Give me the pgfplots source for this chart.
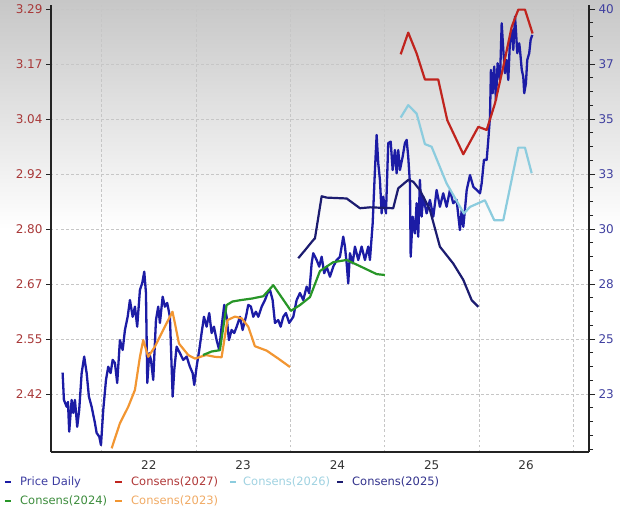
\documentclass[border=0pt]{standalone}
\usepackage{pgfplots}
\pgfplotsset{compat=1.18}
\usepackage{fontspec}
\setmainfont{DejaVu Sans}
\definecolor{cprice}{RGB}{28,28,165}
\definecolor{cA}{RGB}{192,36,30}
\definecolor{cB}{RGB}{140,204,222}
\definecolor{cC}{RGB}{28,28,112}
\definecolor{cD}{RGB}{40,150,40}
\definecolor{cE}{RGB}{242,150,50}
\definecolor{tPrice}{RGB}{60,60,160}
\definecolor{tA}{RGB}{176,56,56}
\definecolor{tB}{RGB}{160,210,225}
\definecolor{tC}{RGB}{50,50,140}
\definecolor{tD}{RGB}{60,140,60}
\definecolor{tE}{RGB}{240,170,100}
\definecolor{tLeft}{RGB}{168,56,56}
\definecolor{tRight}{RGB}{64,64,160}
\definecolor{axisc}{RGB}{35,35,35}
\begin{document}
\begin{tikzpicture}
\path[use as bounding box] (-51pt,-64pt) rectangle (569pt,452pt);
\shade[top color=black!22, bottom color=white] (-51pt,452pt) rectangle (569pt,222pt);
% ---------- price axis (right) ----------
\begin{axis}[
  scale only axis, width=538pt, height=447pt,
  xmin=2021.463, xmax=2027.168,
  ymin=19.864, ymax=40.18,
  axis y line*=right, axis x line*=bottom,
  axis line style={axisc, line width=1.8pt},
  xtick={2022,2023,2024,2025,2026,2027}, xticklabels={},
  xtick style={draw=none},
  ytick={22.5,25,27.5,30,32.5,35,37.5,40},
  yticklabels={23,25,28,30,33,35,37,40},
  yminorticks=true,
  minor ytick={20,20.625,21.25,21.875,23.125,23.75,24.375,25.625,26.25,26.875,28.125,28.75,29.375,30.625,31.25,31.875,33.125,33.75,34.375,35.625,36.25,36.875,38.125,38.75,39.375},
  ytick style={draw=axisc, line width=0.9pt},
  minor y tick style={draw=axisc, line width=0.9pt},
  tick align=outside,
  major tick length=6pt, minor tick length=4pt,
  xmajorgrids, ymajorgrids, yminorgrids=false,
  grid style={gray!45, line width=0.7pt, dash pattern=on 2.5pt off 2.5pt},
  yticklabel style={font=\fontsize{12}{14}\selectfont, text=tRight},
  /pgf/number format/assume math mode=true,
]
\addplot[cprice, line width=2.3pt, line join=round] coordinates {
(2021.586,23.47)(2021.600,22.23)(2021.629,21.92)(2021.643,22.14)(2021.656,20.79)
(2021.682,22.23)(2021.699,21.64)(2021.717,22.23)(2021.741,21.01)(2021.762,21.77)
(2021.788,23.45)(2021.815,24.20)(2021.841,23.45)(2021.865,22.38)(2021.894,21.92)
(2021.929,21.18)(2021.947,20.73)(2021.975,20.56)(2021.993,20.18)(2022.017,21.77)
(2022.046,23.14)(2022.070,23.74)(2022.095,23.45)(2022.117,24.05)(2022.141,23.91)
(2022.165,23.00)(2022.194,24.95)(2022.223,24.50)(2022.247,25.41)(2022.276,26.01)
(2022.300,26.77)(2022.329,26.01)(2022.353,26.47)(2022.377,25.56)(2022.406,27.23)
(2022.431,27.55)(2022.452,28.06)(2022.470,27.09)(2022.484,23.00)(2022.505,24.36)
(2022.523,24.05)(2022.547,23.14)(2022.576,25.86)(2022.600,26.47)(2022.618,25.73)
(2022.647,26.92)(2022.671,26.47)(2022.695,26.64)(2022.724,26.01)(2022.753,22.38)
(2022.770,23.59)(2022.795,24.65)(2022.830,24.36)(2022.865,24.05)(2022.901,24.20)
(2022.936,23.74)(2022.965,23.45)(2022.982,22.91)(2023.007,23.74)(2023.035,24.50)
(2023.060,25.27)(2023.085,26.01)(2023.113,25.56)(2023.141,26.18)(2023.166,25.27)
(2023.191,25.56)(2023.219,24.95)(2023.247,24.50)(2023.272,25.56)(2023.300,26.55)
(2023.325,26.01)(2023.350,24.95)(2023.378,25.41)(2023.406,25.27)(2023.432,25.56)
(2023.467,26.01)(2023.495,25.41)(2023.530,26.01)(2023.555,26.55)(2023.583,26.47)
(2023.608,26.01)(2023.636,26.24)(2023.661,26.01)(2023.697,26.47)(2023.732,26.77)
(2023.760,27.09)(2023.785,27.23)(2023.813,26.77)(2023.838,25.73)(2023.873,25.86)
(2023.898,25.56)(2023.926,26.01)(2023.954,26.18)(2023.989,25.73)(2024.032,26.01)
(2024.068,26.77)(2024.103,27.09)(2024.138,26.77)(2024.174,27.38)(2024.201,27.08)
(2024.227,28.44)(2024.244,28.90)(2024.280,28.59)(2024.307,28.29)(2024.333,28.74)
(2024.360,27.99)(2024.386,28.29)(2024.421,27.83)(2024.456,28.29)(2024.492,28.59)
(2024.527,28.74)(2024.562,29.65)(2024.580,29.20)(2024.598,28.44)(2024.615,27.53)
(2024.633,28.90)(2024.662,28.44)(2024.686,29.20)(2024.721,28.59)(2024.757,29.20)
(2024.792,28.59)(2024.827,29.20)(2024.845,28.59)(2024.874,30.26)(2024.898,32.68)
(2024.916,34.27)(2024.933,32.99)(2024.951,32.23)(2024.969,30.71)(2024.986,31.47)
(2025.015,30.71)(2025.039,33.90)(2025.065,33.97)(2025.086,32.68)(2025.110,33.59)
(2025.128,32.53)(2025.145,33.59)(2025.163,32.68)(2025.192,33.29)(2025.216,33.90)
(2025.234,34.05)(2025.251,33.29)(2025.269,32.08)(2025.277,28.74)(2025.298,30.56)
(2025.322,29.80)(2025.340,31.17)(2025.357,29.65)(2025.375,32.23)(2025.393,30.56)
(2025.410,31.47)(2025.446,30.71)(2025.481,31.32)(2025.517,30.56)(2025.552,31.77)
(2025.587,31.01)(2025.622,31.62)(2025.658,31.01)(2025.693,31.77)(2025.728,31.17)
(2025.764,31.32)(2025.799,29.95)(2025.818,30.86)(2025.835,30.10)(2025.852,30.86)
(2025.871,31.77)(2025.906,32.45)(2025.941,31.92)(2025.977,31.77)(2026.012,31.62)
(2026.030,32.08)(2026.054,33.14)(2026.083,33.14)(2026.100,34.05)(2026.118,35.10)
(2026.128,37.23)(2026.146,36.17)(2026.163,37.38)(2026.181,35.86)(2026.199,37.53)
(2026.224,36.77)(2026.242,39.35)(2026.259,38.14)(2026.277,37.08)(2026.295,37.68)
(2026.312,36.77)(2026.330,38.59)(2026.348,39.05)(2026.365,38.14)(2026.383,39.65)
(2026.393,39.05)(2026.407,37.99)(2026.428,38.44)(2026.436,38.14)(2026.455,37.23)
(2026.471,36.92)(2026.481,36.17)(2026.499,36.62)(2026.513,37.68)(2026.534,37.99)
(2026.549,38.59)(2026.566,38.82)
};
\end{axis}
% ---------- EPS axis (left) ----------
\begin{axis}[
  scale only axis, width=538pt, height=447pt,
  xmin=2021.463, xmax=2027.168,
  ymin=2.2888, ymax=3.2995,
  axis y line*=left, axis x line*=bottom,
  axis line style={axisc, line width=1.8pt},
  xtick={2022.5,2023.5,2024.5,2025.5,2026.5},
  xticklabels={22,23,24,25,26},
  xtick style={draw=none},
  ytick={2.4199,2.5442,2.6685,2.7928,2.9171,3.0414,3.1657,3.29},
  yticklabels={2.42,2.55,2.67,2.80,2.92,3.04,3.17,3.29},
  ytick style={axisc, line width=0.8pt},
  tick align=outside, major tick length=5pt,
  yticklabel style={font=\fontsize{12}{14}\selectfont, text=tLeft},
  xticklabel style={font=\fontsize{12}{14}\selectfont, text=black!80},
  /pgf/number format/assume math mode=true,
]
\addplot[cE, line width=2.2pt, line join=round] coordinates {
(2022.106,2.297)(2022.194,2.354)(2022.282,2.391)(2022.353,2.429)(2022.406,2.504)
(2022.441,2.542)(2022.494,2.504)(2022.565,2.527)(2022.653,2.565)(2022.751,2.606)
(2022.777,2.580)(2022.820,2.534)(2022.918,2.508)(2022.989,2.500)(2023.106,2.508)
(2023.201,2.504)(2023.272,2.503)(2023.334,2.587)(2023.414,2.595)(2023.485,2.591)
(2023.555,2.572)(2023.625,2.528)(2023.750,2.518)(2023.873,2.500)(2023.997,2.481)
};
\addplot[cD, line width=2.2pt, line join=round] coordinates {
(2023.074,2.508)(2023.166,2.516)(2023.254,2.519)(2023.325,2.621)(2023.387,2.629)
(2023.467,2.632)(2023.599,2.636)(2023.714,2.641)(2023.820,2.666)(2024.007,2.608)
(2024.103,2.621)(2024.209,2.639)(2024.315,2.698)(2024.456,2.718)(2024.598,2.723)
(2024.739,2.709)(2024.916,2.691)(2025.004,2.689)
};
\addplot[cC, line width=2.2pt, line join=round] coordinates {
(2024.085,2.727)(2024.156,2.745)(2024.244,2.768)(2024.262,2.772)(2024.333,2.867)
(2024.386,2.864)(2024.598,2.862)(2024.739,2.840)(2024.845,2.842)(2025.092,2.840)
(2025.145,2.885)(2025.251,2.904)(2025.304,2.900)(2025.375,2.881)(2025.481,2.836)
(2025.587,2.753)(2025.728,2.715)(2025.835,2.678)(2025.924,2.632)(2025.994,2.617)
};
\addplot[cB, line width=2.2pt, line join=round] coordinates {
(2025.171,3.045)(2025.251,3.073)(2025.340,3.054)(2025.428,2.985)(2025.499,2.979)
(2025.658,2.896)(2025.842,2.828)(2025.906,2.843)(2026.064,2.858)(2026.163,2.813)
(2026.259,2.813)(2026.418,2.977)(2026.489,2.977)(2026.560,2.919)
};
\addplot[cA, line width=2.2pt, line join=round] coordinates {
(2025.171,3.188)(2025.251,3.237)(2025.340,3.190)(2025.428,3.131)(2025.569,3.131)
(2025.665,3.039)(2025.835,2.962)(2025.994,3.024)(2026.083,3.017)(2026.171,3.077)
(2026.259,3.160)(2026.348,3.250)(2026.418,3.289)(2026.489,3.289)(2026.570,3.235)
};
\end{axis}
% ---------- legend ----------
\begin{scope}[every node/.style={anchor=west, inner sep=0pt, font=\fontsize{11.5}{13}\selectfont}]
\draw[cprice, line width=2pt] (-46pt,-30pt) -- (-40pt,-30pt);
\node[text=tPrice] at (-31pt,-30pt) {Price Daily};
\draw[cA, line width=2pt] (64pt,-30pt) -- (71pt,-30pt);
\node[text=tA] at (80pt,-30pt) {Consens(2027)};
\draw[cB, line width=2pt] (179pt,-30pt) -- (185pt,-30pt);
\node[text=tB] at (192pt,-30pt) {Consens(2026)};
\draw[cC, line width=2pt] (286pt,-30pt) -- (292pt,-30pt);
\node[text=tC] at (301pt,-30pt) {Consens(2025)};
\draw[cD, line width=2pt] (-46pt,-49pt) -- (-40pt,-49pt);
\node[text=tD] at (-31pt,-49pt) {Consens(2024)};
\draw[cE, line width=2pt] (64pt,-49pt) -- (71pt,-49pt);
\node[text=tE] at (80pt,-49pt) {Consens(2023)};
\end{scope}
\end{tikzpicture}
\end{document}
